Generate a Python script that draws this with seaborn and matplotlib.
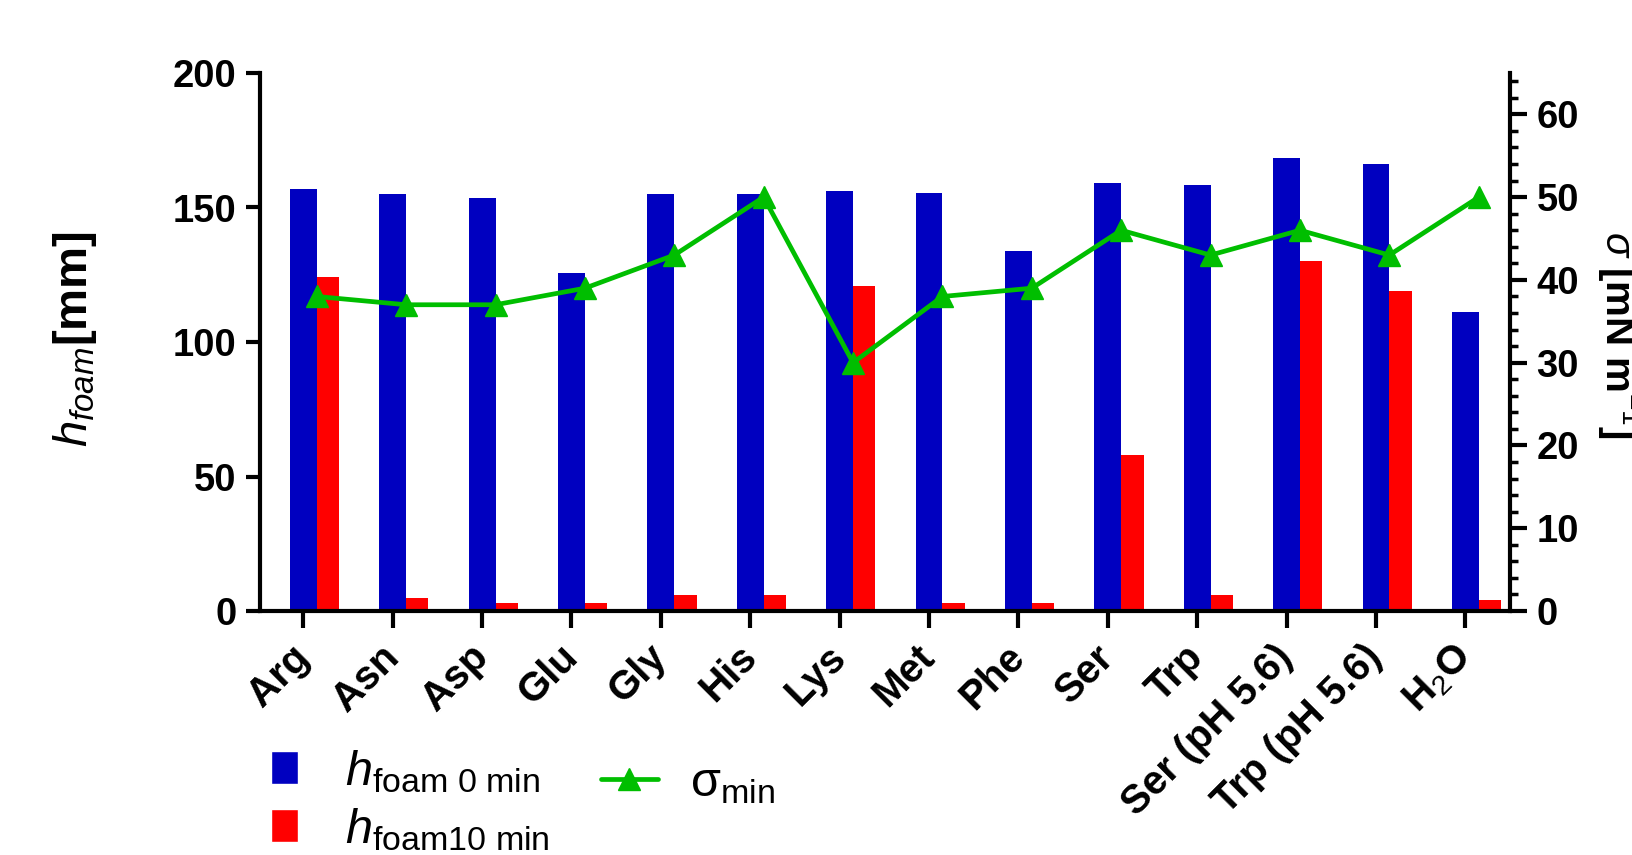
import numpy as np
import pandas as pd
import matplotlib
matplotlib.use('Agg')
import matplotlib.pyplot as plt
from matplotlib.ticker import MultipleLocator
from matplotlib.patches import Patch
from matplotlib.lines import Line2D
import seaborn as sns

# values
samples = ['Arg', 'Asn', 'Asp', 'Glu', 'Gly', 'His', 'Lys', 'Met', 'Phe',
           'Ser', 'Trp', 'Ser (pH 5.6)', 'Trp (pH 5.6)', 'H$_2$O']
h_foam_0 = [157, 155, 153.5, 125.5, 155, 155, 156, 155.5, 134, 159, 158.5, 168.5, 166, 111]
h_foam_10 = [124, 5, 3, 3, 6, 6, 121, 3, 3, 58, 6, 130, 119, 4]
sigma_min = [38, 37, 37, 39, 43, 50, 30, 38, 39, 46, 43, 46, 43, 50]

blue = '#0000C0'
red = '#FF0000'
green = '#00BE00'

sns.set_style('ticks')
plt.rcParams['font.family'] = ['Liberation Sans', 'DejaVu Sans']
plt.rcParams['mathtext.fontset'] = 'custom'
plt.rcParams['mathtext.rm'] = 'Liberation Sans'
plt.rcParams['mathtext.it'] = 'Liberation Sans:italic'
plt.rcParams['mathtext.bf'] = 'Liberation Sans:bold'
for key in ['text.color', 'axes.labelcolor', 'xtick.color', 'ytick.color', 'axes.edgecolor']:
    plt.rcParams[key] = 'black'

n = len(samples)
pos = np.arange(n)  # group centres; ticks sit on the blue bars

fig = plt.figure(figsize=(16.33, 8.55), dpi=100)
ax = fig.add_axes([260 / 1633, 1 - 611 / 855, 1250 / 1633, (611 - 73) / 855])

# blue bar sits left of the group centre, narrower red bar right of it
sns.barplot(x=pos - 0.15, y=h_foam_0, native_scale=True, width=0.30,
            color=blue, saturation=1, linewidth=0, errorbar=None, ax=ax)
sns.barplot(x=pos + 0.125, y=h_foam_10, native_scale=True, width=0.25,
            color=red, saturation=1, linewidth=0, errorbar=None, ax=ax)

ax2 = ax.twinx()
sns.lineplot(x=pos, y=sigma_min, ax=ax2, color=green, marker='^',
             markersize=16, markeredgecolor=green, markeredgewidth=1,
             linewidth=3.4, errorbar=None)

ax.set_xlim(-0.635, n - 0.65)
ax.set_ylim(0, 200)
ax.set_yticks([0, 50, 100, 150, 200])
ax2.set_ylim(0, 65)
ax2.set_yticks(range(0, 61, 10))
ax2.yaxis.set_minor_locator(MultipleLocator(2))

ax.set_xlabel('')
ax.set_ylabel('')
ax2.set_xlabel('')
ax2.set_ylabel('')

for s in ['top', 'right']:
    ax.spines[s].set_visible(False)
for s in ['top', 'left', 'bottom']:
    ax2.spines[s].set_visible(False)
for sp in [ax.spines['left'], ax.spines['bottom'], ax2.spines['right']]:
    sp.set_linewidth(3)
    sp.set_color('black')

ax.tick_params(axis='y', length=10, width=3, pad=7, labelsize=27.5)
ax.tick_params(axis='x', length=12, width=3, pad=17, labelsize=29)
ax2.tick_params(axis='y', which='major', length=12, width=3, pad=7, labelsize=27.5)
ax2.tick_params(axis='y', which='minor', length=6, width=2.5)
ax2.tick_params(axis='x', bottom=False, labelbottom=False)

for lab in ax.get_yticklabels() + ax2.get_yticklabels():
    lab.set_fontweight('bold')
ax.set_xticks(pos - 0.15)
ax.set_xticklabels(samples, rotation=45, ha='right', va='center',
                   rotation_mode='anchor', fontweight='bold')

fig.text(87 / 1633, 1 - 339 / 855, r'$h_{foam}$[mm]', rotation=90,
         rotation_mode='anchor', ha='center', va='baseline', fontsize=34,
         fontweight='bold')
fig.text(1606 / 1633, 1 - 335 / 855, r'$\sigma$ [mN m$^{-1}$]', rotation=-90,
         rotation_mode='anchor', ha='center', va='baseline', fontsize=29,
         fontweight='bold')

bar_handles = [Patch(facecolor=blue), Patch(facecolor=red)]
bar_labels = [r'$h_{\mathrm{foam\ 0\ min}}$', r'$h_{\mathrm{foam10\ min}}$']
leg1 = fig.legend(bar_handles, bar_labels, loc='upper left',
                  bbox_to_anchor=(271 / 1633, 1 - 748 / 855), frameon=False,
                  fontsize=35, handlelength=0.55, handleheight=0.67,
                  handletextpad=0.97, labelspacing=0.23, borderpad=0,
                  borderaxespad=0)
line_handle = Line2D([], [], color=green, marker='^', lw=3.4, ms=16)
leg2 = fig.legend([line_handle], ['σ$_{\\mathrm{min}}$'], loc='upper left',
                  bbox_to_anchor=(601 / 1633, 1 - 761 / 855), frameon=False,
                  fontsize=35, handlelength=1.17, handletextpad=0.66,
                  borderpad=0, borderaxespad=0)

fig.savefig('out.png', dpi=100)
